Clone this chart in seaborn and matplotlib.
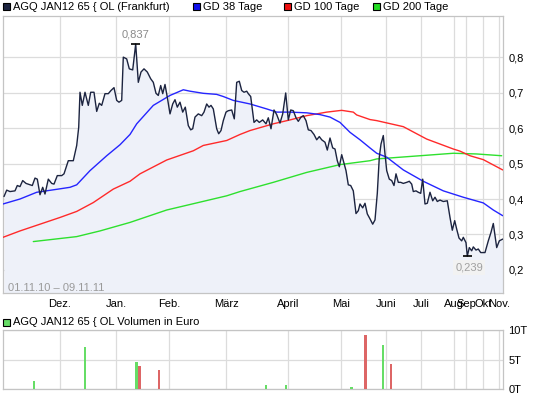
import matplotlib
matplotlib.use("Agg")
import matplotlib.pyplot as plt
from matplotlib.patches import Rectangle
import seaborn as sns
import pandas as pd

# ---------------- data ----------------
price_t = [1, 3.7, 7, 12, 14.3, 17, 19.7, 23, 27, 29.3, 32, 34.3, 37, 39.7, 42, 45.3, 48.7, 51, 54.3, 58.7,
           61, 65.3, 70.3, 73.7, 75.7, 77, 79.3, 82, 85.3, 87.7, 91, 93.7, 96.3, 98.7, 102, 105.3, 108, 111,
           113.7, 116, 118.7, 120.3, 123.7, 126.3, 129.7, 132.7, 135.3, 138, 141, 144.3, 147.7, 150.3, 153,
           155.3, 157.7, 159.7, 162, 164.3, 167, 169.7, 172, 174.3, 177, 179.7, 182.3, 185.3, 187.7, 189.7,
           192, 195.3, 198.7, 201, 203.7, 206, 208, 210.3, 213.7, 215.7, 218, 220.3, 223, 225.3, 228.7, 231.3,
           233.7, 236.3, 238.7, 241, 243.7, 245.3, 247.7, 251, 253.7, 256.3, 259.7, 263, 265.3, 268, 271,
           273.7, 277, 279.7, 282.7, 285.3, 287.7, 290.3, 293, 295.3, 298, 300.3, 303, 305.3, 308, 311,
           313.7, 316.3, 318.7, 322, 324.3, 327, 329.7, 332, 334.3, 336.3, 338.7, 340.3, 343, 345.3, 347.7,
           350.3, 353, 355.3, 357, 359.7, 362, 364.3, 367, 369.7, 372, 374.3, 376.3, 378, 380.3, 382, 383.7,
           386.3, 388.7, 391, 393, 395.3, 397.7, 400.3, 403.7, 406.3, 408.7, 410.3, 413, 415.3, 417.7, 419.7,
           422, 424.3, 427, 429.7, 432, 434.3, 437, 440.3, 444.3, 447, 449.3, 451.7, 453.7, 456, 458.7,
           460.3, 463, 464.3, 466.3, 468.7, 470.3, 473, 475.3, 477.7, 482, 485.3, 488, 490.3, 493.7, 496.3,
           499.7]
price_v = [0.407, 0.425, 0.421, 0.423, 0.438, 0.435, 0.452, 0.444, 0.440, 0.438, 0.459, 0.456, 0.412, 0.433,
           0.414, 0.456, 0.444, 0.442, 0.466, 0.466, 0.471, 0.508, 0.508, 0.551, 0.602, 0.701, 0.664, 0.701,
           0.664, 0.701, 0.701, 0.647, 0.670, 0.664, 0.697, 0.697, 0.706, 0.714, 0.678, 0.673, 0.678, 0.800,
           0.795, 0.767, 0.764, 0.837, 0.729, 0.758, 0.767, 0.758, 0.739, 0.729, 0.698, 0.692, 0.720, 0.697,
           0.723, 0.687, 0.640, 0.668, 0.680, 0.659, 0.673, 0.645, 0.659, 0.607, 0.595, 0.598, 0.631, 0.640,
           0.635, 0.645, 0.668, 0.659, 0.664, 0.654, 0.598, 0.584, 0.593, 0.621, 0.645, 0.649, 0.651, 0.626,
           0.729, 0.732, 0.706, 0.701, 0.704, 0.697, 0.689, 0.616, 0.623, 0.616, 0.623, 0.612, 0.629, 0.598,
           0.651, 0.638, 0.614, 0.640, 0.699, 0.623, 0.651, 0.649, 0.629, 0.619, 0.631, 0.635, 0.621, 0.595,
           0.593, 0.582, 0.567, 0.576, 0.567, 0.560, 0.538, 0.572, 0.544, 0.541, 0.508, 0.491, 0.525, 0.508,
           0.480, 0.440, 0.438, 0.423, 0.359, 0.367, 0.386, 0.375, 0.388, 0.358, 0.344, 0.329, 0.341, 0.416,
           0.518, 0.555, 0.579, 0.527, 0.480, 0.456, 0.452, 0.438, 0.471, 0.447, 0.447, 0.444, 0.447, 0.450,
           0.442, 0.421, 0.423, 0.419, 0.416, 0.456, 0.386, 0.388, 0.419, 0.395, 0.405, 0.393, 0.397, 0.393,
           0.395, 0.348, 0.312, 0.339, 0.315, 0.290, 0.282, 0.292, 0.277, 0.239, 0.263, 0.254, 0.265, 0.256,
           0.259, 0.249, 0.249, 0.282, 0.306, 0.331, 0.263, 0.282, 0.287]

gd38_t = [0, 17, 33.7, 55.3, 67, 73.7, 87, 103.7, 117, 127, 133.7, 150.3, 167, 180.3, 187, 200.3, 213.7,
          220.3, 230.3, 247, 263.7, 273.7, 287, 303.7, 317, 327, 337, 347, 357, 367, 373.7, 383.7, 400.3,
          420.3, 440.3, 460.3, 480.3, 490.3, 499.7]
gd38_v = [0.386, 0.400, 0.419, 0.428, 0.433, 0.440, 0.480, 0.522, 0.553, 0.582, 0.612, 0.664, 0.692, 0.708,
          0.704, 0.698, 0.695, 0.689, 0.678, 0.668, 0.654, 0.645, 0.645, 0.643, 0.638, 0.631, 0.616, 0.588,
          0.567, 0.544, 0.529, 0.518, 0.482, 0.450, 0.423, 0.405, 0.389, 0.369, 0.353]

gd100_t = [0, 17, 37, 57, 73.7, 90.3, 110.3, 127, 137, 163.7, 190.3, 200.3, 223.7, 237, 247, 270.3, 287,
           303.7, 323.7, 338.7, 350.3, 353.7, 367, 373.7, 400.3, 423.7, 450.3, 457, 467, 480.3, 499.7]
gd100_v = [0.292, 0.310, 0.329, 0.348, 0.365, 0.390, 0.428, 0.450, 0.471, 0.510, 0.536, 0.551, 0.565, 0.582,
           0.593, 0.612, 0.623, 0.635, 0.645, 0.650, 0.645, 0.637, 0.624, 0.621, 0.604, 0.569, 0.541, 0.535,
           0.522, 0.511, 0.482]

gd200_t = [30.3, 73.7, 97, 127, 163.7, 223.7, 237, 270.3, 303.7, 337, 367, 373.7, 417, 450.3, 473.7, 498.7]
gd200_v = [0.280, 0.294, 0.310, 0.334, 0.369, 0.409, 0.421, 0.447, 0.475, 0.497, 0.508, 0.513, 0.522, 0.529,
           0.527, 0.522]

vol_t = [31, 82, 133.4, 136.5, 155.7, 263, 283, 348.5, 362.4, 380, 387.6]
vol_v = [1.3, 7.2, 4.5, 3.9, 3.3, 0.7, 0.7, 0.4, 9.2, 7.4, 4.3]
vol_dir = ["up", "up", "up", "down", "down", "up", "up", "up", "down", "up", "down"]

month_t = [57, 113, 166, 223, 285, 338, 383, 418, 451, 463, 480, 496]
month_labels = ["Dez.", "Jan.", "Feb.", "März", "April", "Mai", "Juni", "Juli", "Aug", "Sep", "Okt", "Nov."]
price_ticks = [0.2, 0.3, 0.4, 0.5, 0.6, 0.7, 0.8]
vol_ticks = [0, 5, 10]
vol_tick_labels = ["0T", "5T", "10T"]

# ---------------- style ----------------
sns.set_style("white")
plt.rcParams["font.family"] = ["Liberation Sans", "DejaVu Sans"]
FS = 8
GRID = "#dcdcdc"
SPINE = "#c4c4c4"
C_PRICE = "#1c2440"
C_38 = "#2525ff"
C_100 = "#ff2a2a"
C_200 = "#2ee02e"
FILL = "#eef1f9"

W, H = 545, 398
fig = plt.figure(figsize=(W / 100, H / 100), dpi=100)


def rect(x0, y0, x1, y1):
    return [x0 / W, 1 - y1 / H, (x1 - x0) / W, (y1 - y0) / H]


ax = fig.add_axes(rect(3, 16, 503, 293))
axv = fig.add_axes(rect(3, 330, 503, 389))

# ---------------- price panel ----------------
YMIN, YMAX = 0.135, 0.916
ax.fill_between(price_t, price_v, YMIN, color=FILL, lw=0, zorder=1)
df_p = pd.DataFrame({"t": price_t, "v": price_v})
sns.lineplot(data=df_p, x="t", y="v", ax=ax, color=C_PRICE, lw=1.0, estimator=None, sort=False, zorder=5)
sns.lineplot(x=gd200_t, y=gd200_v, ax=ax, color=C_200, lw=1.0, estimator=None, zorder=3)
sns.lineplot(x=gd100_t, y=gd100_v, ax=ax, color=C_100, lw=1.0, estimator=None, zorder=3)
sns.lineplot(x=gd38_t, y=gd38_v, ax=ax, color=C_38, lw=1.0, estimator=None, zorder=4)

ax.set_xlim(0, 500)
ax.set_ylim(YMIN, YMAX)
ax.set_xticks(month_t)
ax.set_xticklabels(month_labels, fontsize=FS)
ax.set_yticks(price_ticks)
ax.set_yticklabels([f"{v:.1f}".replace(".", ",") for v in price_ticks], fontsize=FS)
ax.yaxis.tick_right()
ax.tick_params(axis="both", length=0, colors="black")
ax.tick_params(axis="x", pad=4)
ax.tick_params(axis="y", pad=4)
ax.grid(True, color=GRID, lw=0.9, zorder=0)
ax.set_axisbelow(True)
ax.set_xlabel("")
ax.set_ylabel("")
for s in ax.spines.values():
    s.set_color(SPINE)
    s.set_linewidth(0.9)
    s.set_visible(True)

# high / low markers
i_hi = price_v.index(max(price_v))
i_lo = price_v.index(min(price_v))
ax.hlines(price_v[i_hi], price_t[i_hi] - 4.5, price_t[i_hi] + 4.5, color="black", lw=1.2, zorder=6)
ax.text(price_t[i_hi], price_v[i_hi] + 0.012, f"{price_v[i_hi]:.3f}".replace(".", ","), ha="center",
        va="bottom", fontsize=FS, color="#8a8a8a", zorder=6)
ax.hlines(price_v[i_lo], price_t[i_lo] - 4.5, price_t[i_lo] + 4.5, color="black", lw=1.2, zorder=6)
ax.text(price_t[i_lo] + 1.7, price_v[i_lo] - 0.018, f"{price_v[i_lo]:.3f}".replace(".", ","), ha="center",
        va="top", fontsize=FS, color="#a0a0a0", zorder=6,
        bbox=dict(boxstyle="square,pad=0.2", fc="#f2f2f2", ec="none"))

ax.text(4.5, 0.150, "01.11.10 \u2013 09.11.11", fontsize=FS, color="#9a9a9a", va="center", ha="left", zorder=6)

# ---------------- volume panel ----------------
vol_colors = {"up": "#66dd66", "down": "#dd6666"}
axv.bar(vol_t, vol_v, width=2.2, color=[vol_colors[d] for d in vol_dir], lw=0, zorder=3)
axv.set_xlim(0, 500)
axv.set_ylim(0, 10)
axv.set_xticks(month_t)
axv.set_xticklabels([])
axv.set_yticks(vol_ticks)
axv.set_yticklabels(vol_tick_labels, fontsize=FS)
axv.yaxis.tick_right()
axv.tick_params(axis="both", length=0, colors="black")
axv.tick_params(axis="y", pad=4)
axv.grid(True, color=GRID, lw=0.9, zorder=0)
axv.set_axisbelow(True)
for s in axv.spines.values():
    s.set_color(SPINE)
    s.set_linewidth(0.9)
    s.set_visible(True)

# ---------------- legends ----------------
def square(x, y, color):
    fig.add_artist(Rectangle((x / W, 1 - (y + 7) / H), 7 / W, 7 / H, transform=fig.transFigure,
                             facecolor=color, edgecolor="black", lw=0.8))


legend_items = [(3, "AGQ JAN12 65 { OL (Frankfurt)", C_PRICE),
                (193, "GD 38 Tage", "#1010ee"),
                (284, "GD 100 Tage", "#ee1010"),
                (373, "GD 200 Tage", "#22dd22")]
for x, label, col in legend_items:
    square(x, 3, col)
    fig.text((x + 10) / W, 1 - 6.5 / H, label, fontsize=FS, va="center", ha="left", color="black")

square(3, 318.5, "#66dd66")
fig.text(13 / W, 1 - 322 / H, "AGQ JAN12 65 { OL Volumen in Euro", fontsize=FS, va="center", ha="left",
         color="black")

fig.savefig("out.png", dpi=100)
